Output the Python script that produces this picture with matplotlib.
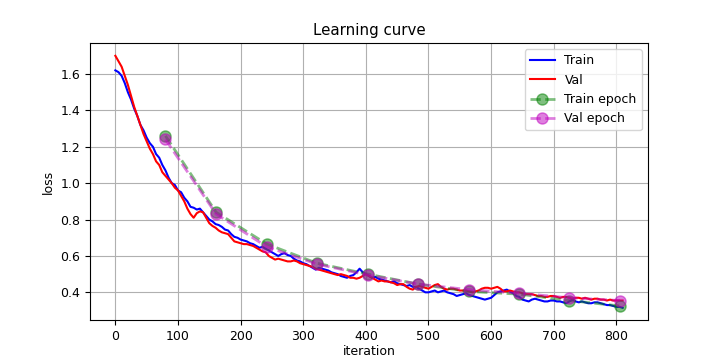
import numpy as np
import matplotlib.pyplot as plt

plt.rcParams['font.size'] = 9

# iteraciones (cada 5)
iters = np.arange(0, 815, 5)

train_loss = [1.62, 1.61, 1.59, 1.55, 1.50, 1.46, 1.41, 1.37, 1.32, 1.29,
              1.25, 1.22, 1.20, 1.16, 1.14, 1.10, 1.07, 1.03, 1.00, 0.99,
              0.96, 0.95, 0.92, 0.90, 0.87, 0.865, 0.855, 0.86, 0.84, 0.82,
              0.80, 0.79, 0.775, 0.77, 0.76, 0.745, 0.74, 0.72, 0.705, 0.70,
              0.69, 0.685, 0.68, 0.67, 0.665, 0.655, 0.645, 0.65, 0.64, 0.63,
              0.62, 0.61, 0.60, 0.61, 0.615, 0.605, 0.60, 0.585, 0.575, 0.57,
              0.56, 0.555, 0.545, 0.535, 0.525, 0.535, 0.53, 0.525, 0.52, 0.51,
              0.505, 0.50, 0.49, 0.485, 0.48, 0.49, 0.495, 0.51, 0.53, 0.51,
              0.50, 0.49, 0.48, 0.485, 0.475, 0.47, 0.465, 0.46, 0.455, 0.46,
              0.45, 0.445, 0.44, 0.435, 0.44, 0.43, 0.43, 0.42, 0.41, 0.40,
              0.40, 0.405, 0.41, 0.40, 0.405, 0.41, 0.40, 0.395, 0.39, 0.38,
              0.385, 0.39, 0.395, 0.385, 0.38, 0.375, 0.37, 0.365, 0.36, 0.365,
              0.37, 0.385, 0.40, 0.405, 0.41, 0.415, 0.405, 0.395, 0.38, 0.375,
              0.36, 0.355, 0.35, 0.36, 0.365, 0.36, 0.355, 0.35, 0.35, 0.355,
              0.355, 0.35, 0.35, 0.345, 0.34, 0.35, 0.36, 0.35, 0.345, 0.35,
              0.345, 0.34, 0.34, 0.345, 0.345, 0.34, 0.335, 0.33, 0.33, 0.325,
              0.32, 0.32, 0.315]

val_loss = [1.70, 1.67, 1.64, 1.59, 1.54, 1.48, 1.42, 1.37, 1.32, 1.27,
            1.23, 1.19, 1.16, 1.12, 1.10, 1.06, 1.04, 1.02, 1.00, 0.975,
            0.96, 0.93, 0.90, 0.86, 0.83, 0.81, 0.835, 0.845, 0.84, 0.81,
            0.78, 0.765, 0.755, 0.74, 0.73, 0.725, 0.72, 0.70, 0.68, 0.675,
            0.67, 0.665, 0.665, 0.66, 0.655, 0.645, 0.635, 0.625, 0.62, 0.60,
            0.59, 0.58, 0.585, 0.58, 0.575, 0.57, 0.57, 0.575, 0.57, 0.56,
            0.555, 0.55, 0.545, 0.54, 0.53, 0.525, 0.52, 0.515, 0.51, 0.505,
            0.50, 0.495, 0.50, 0.495, 0.49, 0.48, 0.48, 0.475, 0.48, 0.49,
            0.50, 0.49, 0.48, 0.47, 0.46, 0.465, 0.46, 0.46, 0.455, 0.45,
            0.44, 0.445, 0.445, 0.43, 0.42, 0.415, 0.43, 0.435, 0.43, 0.425,
            0.42, 0.43, 0.44, 0.445, 0.43, 0.42, 0.415, 0.42, 0.42, 0.415,
            0.41, 0.41, 0.41, 0.405, 0.40, 0.405, 0.41, 0.42, 0.425, 0.425,
            0.42, 0.425, 0.43, 0.42, 0.405, 0.405, 0.41, 0.405, 0.40, 0.40,
            0.395, 0.39, 0.39, 0.39, 0.385, 0.38, 0.38, 0.375, 0.375, 0.38,
            0.38, 0.375, 0.37, 0.375, 0.375, 0.37, 0.365, 0.37, 0.37, 0.365,
            0.37, 0.365, 0.36, 0.365, 0.365, 0.36, 0.36, 0.355, 0.36, 0.355,
            0.355, 0.355, 0.355]

# fin de cada epoca
epoch_iters = [80, 161, 242, 322, 403, 484, 564, 645, 725, 806]
train_epoch = [1.26, 0.84, 0.665, 0.56, 0.50, 0.445, 0.405, 0.39, 0.355, 0.325]
val_epoch = [1.24, 0.83, 0.65, 0.555, 0.495, 0.445, 0.415, 0.395, 0.37, 0.355]

fig, ax = plt.subplots(figsize=(7.2, 3.6), dpi=100)
ax.plot(iters, train_loss, color='blue', linewidth=1.5, label='Train')
ax.plot(iters, val_loss, color='red', linewidth=1.5, label='Val')
ax.plot(epoch_iters, train_epoch, 'o--', color='green', alpha=0.5,
        linewidth=2, markersize=8, label='Train epoch')
ax.plot(epoch_iters, val_epoch, 'o--', color='m', alpha=0.5,
        linewidth=2, markersize=8, label='Val epoch')
ax.set_title('Learning curve')
ax.set_xlabel('iteration', labelpad=1)
ax.set_ylabel('loss')
ax.legend(loc='upper right')
ax.grid()
fig.savefig('out.png')
